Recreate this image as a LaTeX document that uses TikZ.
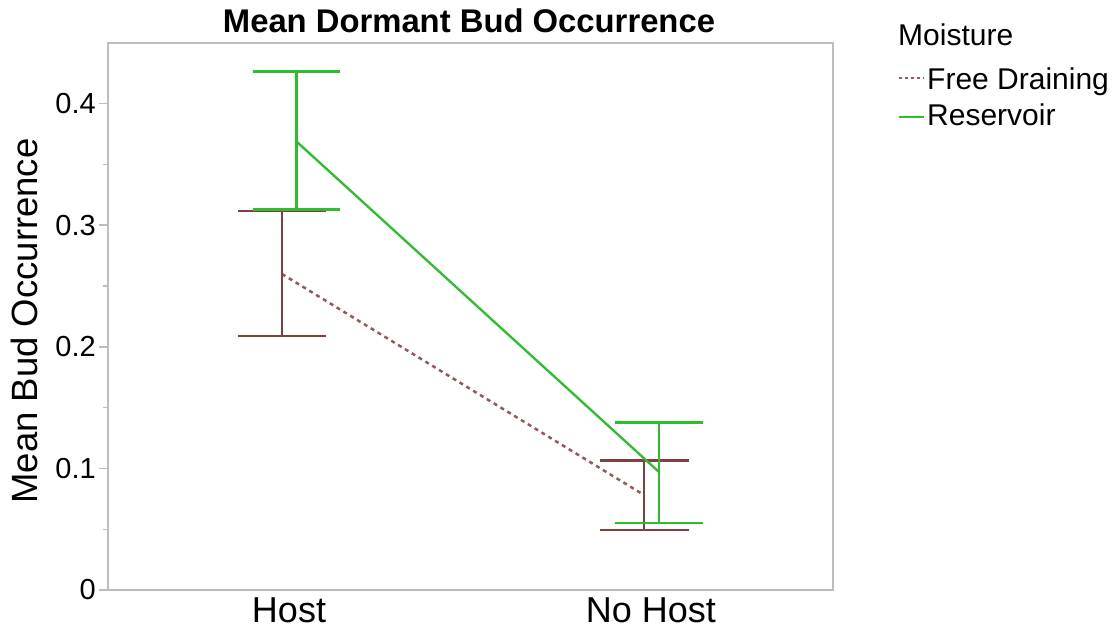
\documentclass[tikz,border=0pt]{standalone}
\usepackage{fontspec}
\setmainfont{Liberation Sans}
\definecolor{framegrey}{HTML}{BDBDBD}
\definecolor{brownbar}{HTML}{7F4040}
\definecolor{browndash}{HTML}{9A5757}
\definecolor{greenbar}{HTML}{2DBE2D}
\begin{document}
\begin{tikzpicture}[x=1pt,y=-1pt,
  txt/.style={inner sep=0pt,text=black},
  ticklbl/.style={txt,anchor=east,font=\fontsize{29}{29}\selectfont},
  xlbl/.style={txt,anchor=base,font=\fontsize{36}{36}\selectfont},
  leglbl/.style={txt,anchor=base west,font=\fontsize{30}{30}\selectfont},
  frameline/.style={draw=framegrey,line width=1.6pt},
  tickline/.style={draw=framegrey,line width=1.4pt},
  brownerr/.style={draw=brownbar,line width=2.7pt},
  greenerr/.style={draw=greenbar,line width=2.7pt},
  brownmean/.style={draw=browndash,line width=2.5pt,dash pattern=on 4pt off 4pt},
  greenmean/.style={draw=greenbar,line width=2.3pt}]
\useasboundingbox (0,0) rectangle (1116,629);
\fill[white] (0,0) rectangle (1116,629);
% frame
\draw[frameline] (108,43) rectangle (833,590);
% y ticks
\foreach \v/\l in {0/0,0.1/0.1,0.2/0.2,0.3/0.3,0.4/0.4}{
  \draw[tickline] (99,{590-\v*1216}) -- (108,{590-\v*1216});
  \node[ticklbl] at (96,{590-\v*1216}) {\l};
}
\foreach \v in {0.05,0.15,0.25,0.35}{
  \draw[tickline] (103,{590-\v*1216}) -- (108,{590-\v*1216});
}
% title
\node[txt,anchor=base,font=\bfseries\fontsize{32.8}{33}\selectfont] (title) at (469,32) {Mean Dormant Bud Occurrence};
% y label
\node[txt,anchor=base,rotate=90,font=\fontsize{36.5}{37}\selectfont] (ylab) at (37,321) {Mean Bud Occurrence};
% x labels
\node[xlbl] (host) at (289,622) {Host};
\node[xlbl] (nohost) at (651,622) {No Host};
% data coordinates
\coordinate (bHm) at (282,274);
\coordinate (bNm) at (644,495);
\coordinate (gHm) at (296.5,141.5);
\coordinate (gNm) at (659,472);
% brown (Free Draining)
\draw[brownmean] (bHm) -- (bNm);
\draw[brownerr] (282,211) -- (282,336);
\draw[brownerr] (238,211) -- (326,211);
\draw[brownerr] (238,336) -- (326,336);
\draw[brownerr] (644,460.7) -- (644,530);
\draw[brownerr] (600,460.7) -- (689,460.7);
\draw[brownerr] (600,530) -- (689,530);
% green (Reservoir)
\draw[greenmean] (gHm) -- (gNm);
\draw[greenerr] (296.5,71.7) -- (296.5,209.5);
\draw[greenerr] (253,71.7) -- (340,71.7);
\draw[greenerr] (253,209.5) -- (340,209.5);
\draw[greenerr] (659,422.7) -- (659,523);
\draw[greenerr] (615,422.7) -- (703,422.7);
\draw[greenerr] (615,523) -- (703,523);
% legend
\node[leglbl] (legtitle) at (898,45) {Moisture};
\coordinate (l1a) at (899,78);
\coordinate (l1b) at (924,78);
\coordinate (l2a) at (899,117);
\coordinate (l2b) at (924,117);
\draw[brownmean,line width=2pt,dash pattern=on 3pt off 3pt] (l1a) -- (l1b);
\draw[greenmean] (l2a) -- (l2b);
\node[leglbl] (leg1) at (927,89) {Free Draining};
\node[leglbl] (leg2) at (927,125) {Reservoir};
\end{tikzpicture}
\end{document}
